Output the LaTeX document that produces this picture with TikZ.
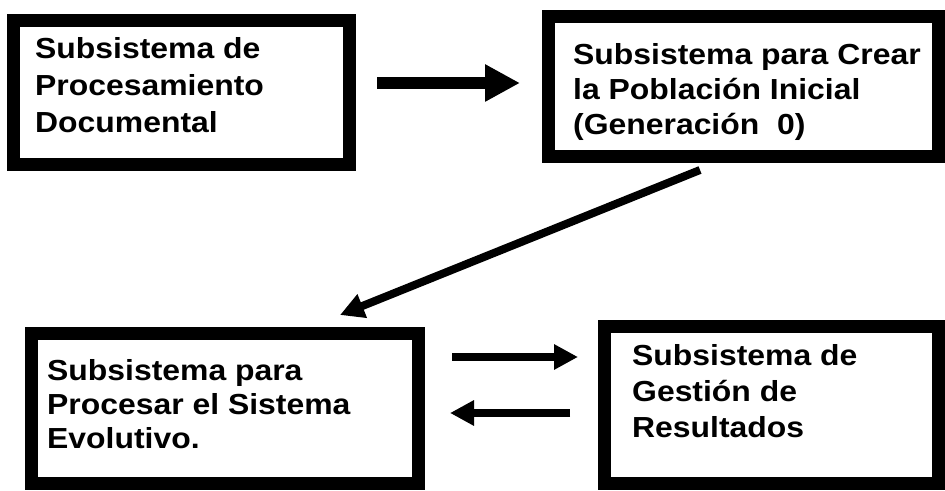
\documentclass[tikz,border=0pt]{standalone}
\usepackage{fontspec}
\setmainfont{Liberation Sans}
\newfontfamily\boxfont[FakeStretch=1.1]{Liberation Sans}
\usetikzlibrary{arrows.meta}
\begin{document}
\begin{tikzpicture}[x=1bp,y=-1bp,
  frame/.style={draw=black, line width=13bp, rectangle, inner sep=0pt},
  boxtext/.style={anchor=base west, align=left, inner sep=0pt,
    font=\boxfont\bfseries\fontsize{29bp}{#1}\selectfont},
  bigarrow/.style={line width=12bp, -{Triangle[length=35bp,width=35bp]}},
  thinarrow/.style={line width=8bp, -{Triangle[length=24bp,width=24bp]}}]
\useasboundingbox[fill=white] (0,0) rectangle (945,491);

% subsystem frames
\node[frame, minimum width=336bp, minimum height=144bp] (doc) at (181.5,92.5) {};
\node[frame, minimum width=390bp, minimum height=140bp] (pop) at (743.5,86.5) {};
\node[frame, minimum width=387bp, minimum height=150bp] (evo) at (225,408.5) {};
\node[frame, minimum width=334bp, minimum height=157bp] (res) at (771.5,405) {};

% captions (placed by the baseline of their last line)
\node[boxtext=37bp] (doctext) at (35,133) {Subsistema de\\Procesamiento\\Documental};
\node[boxtext=35bp] (poptext) at (573,135) {Subsistema para Crear\\la Población Inicial\\(Generación \ 0)};
\node[boxtext=34bp] (evotext) at (47,448) {Subsistema para\\Procesar el Sistema\\Evolutivo.};
\node[boxtext=36bp] (restext) at (632,437) {Subsistema de\\Gestión de\\Resultados};

% connector end points
\coordinate (a1s) at (377,83);
\coordinate (a1e) at (520,83);
\coordinate (a2s) at (700,170);
\coordinate (a2e) at (340,315);
\coordinate (a3s) at (452,357);
\coordinate (a3e) at (578,357);
\coordinate (a4s) at (570,413);
\coordinate (a4e) at (450,413);

% connectors
\draw[bigarrow] (a1s) -- (a1e);
\draw[thinarrow] (a2s) -- (a2e);
\draw[thinarrow] (a3s) -- (a3e);
\draw[thinarrow] (a4s) -- (a4e);
\end{tikzpicture}
\end{document}
